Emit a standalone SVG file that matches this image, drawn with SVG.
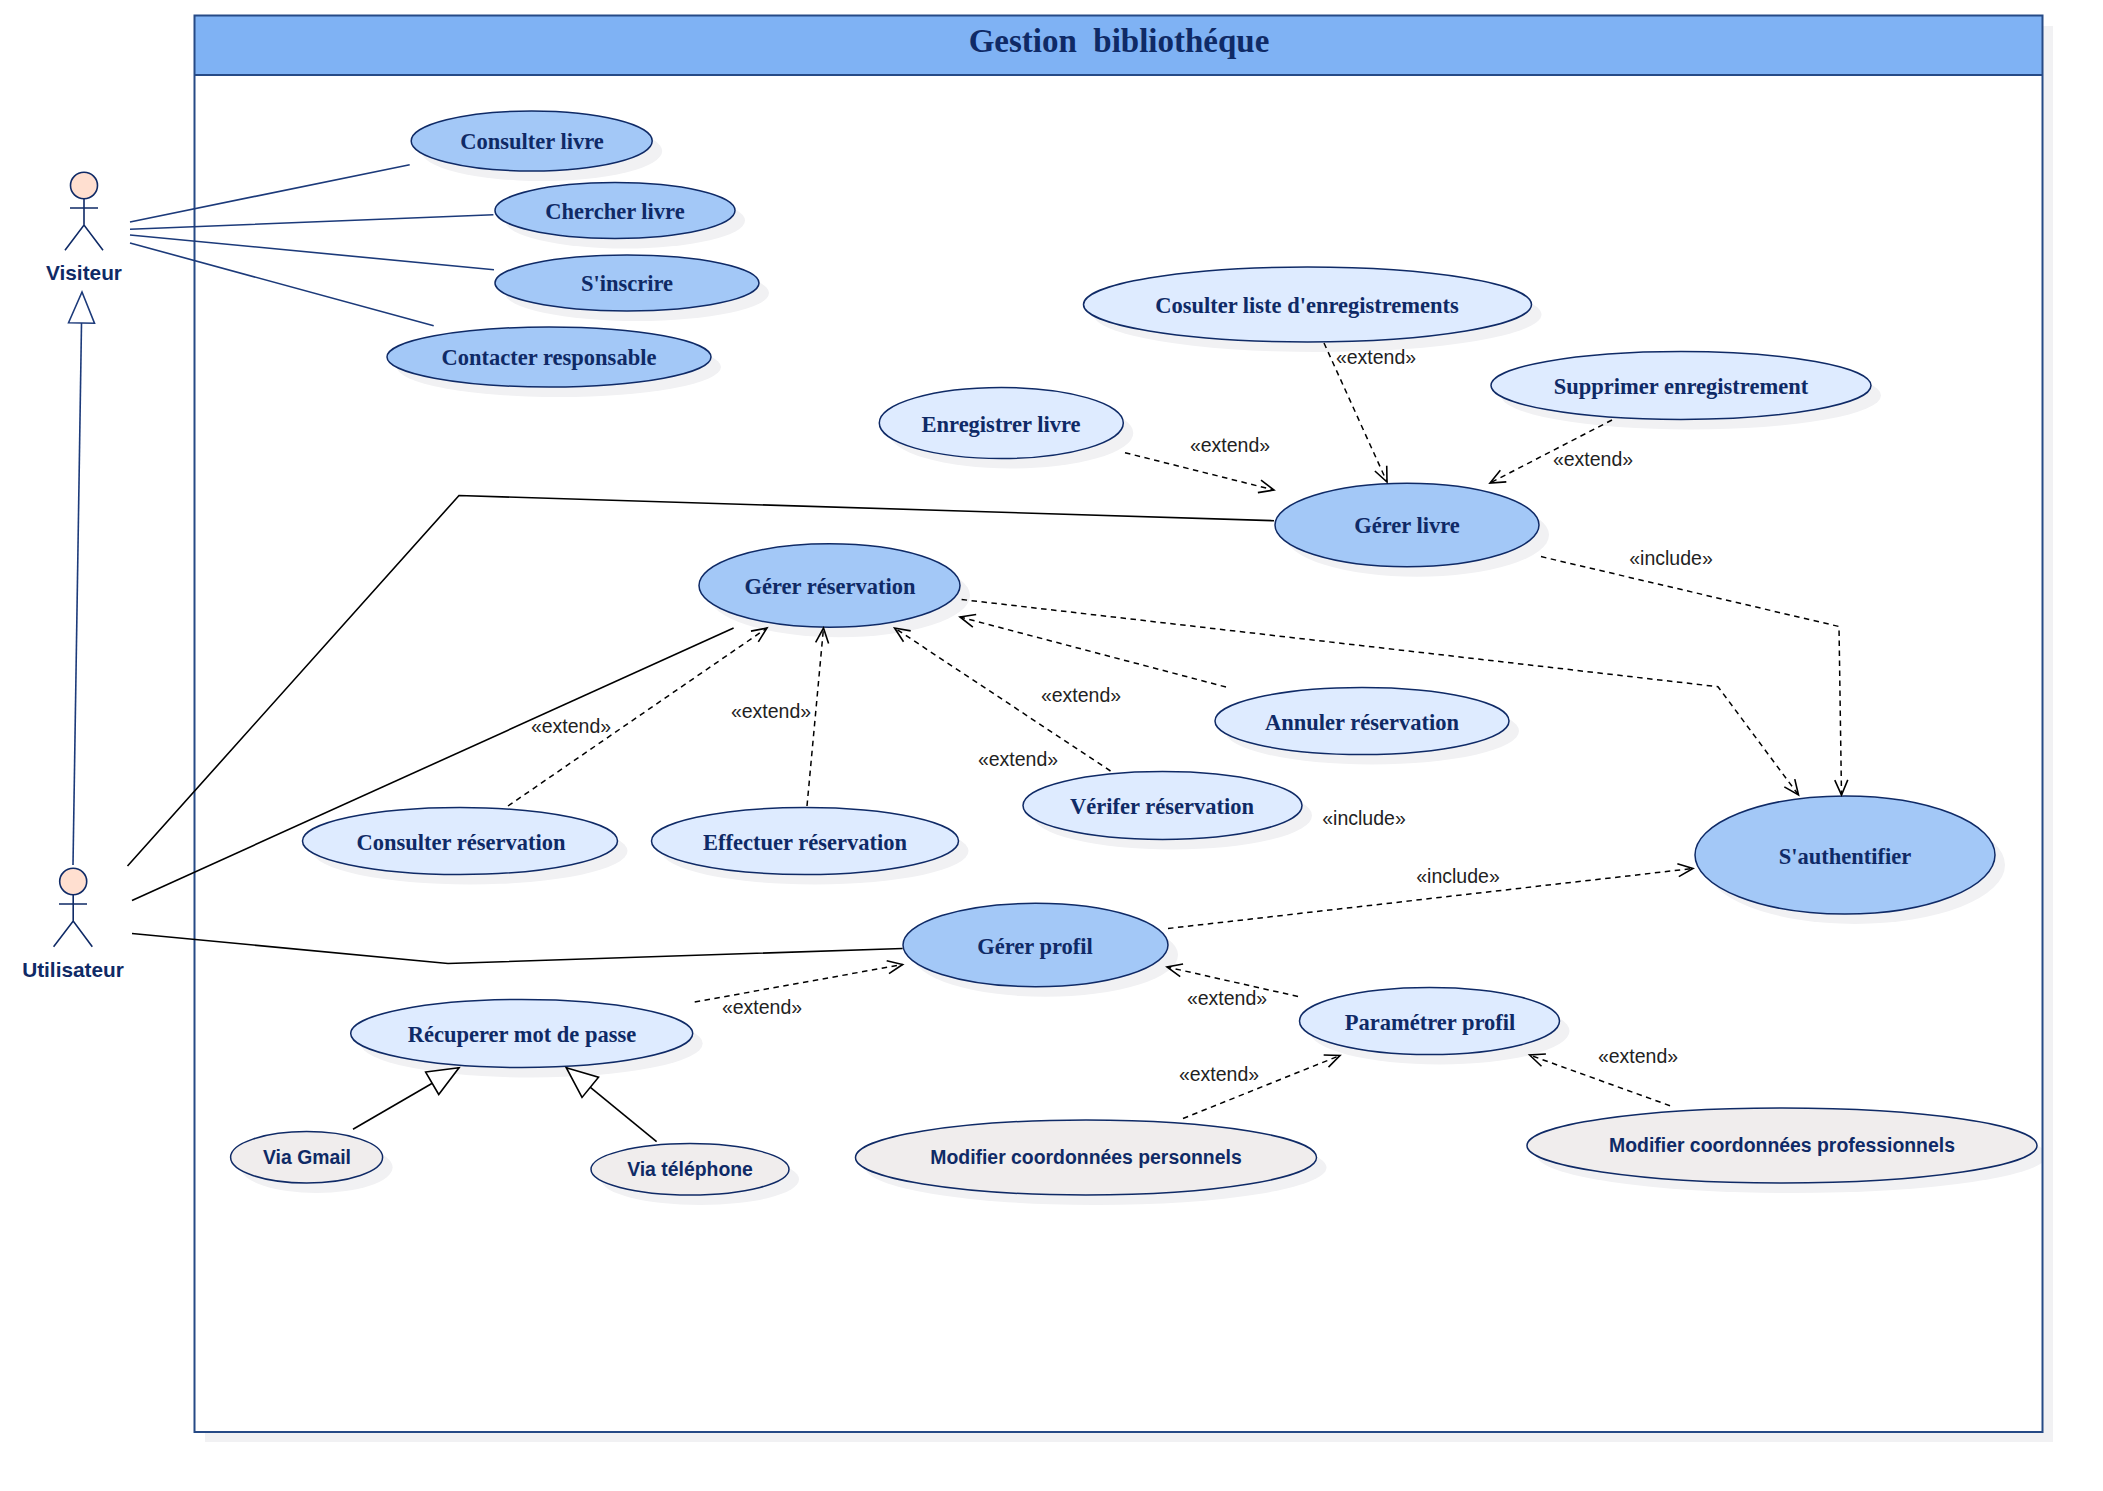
<svg xmlns="http://www.w3.org/2000/svg" width="2103" height="1491" viewBox="0 0 2103 1491">
<style>
text{text-anchor:middle;white-space:pre}
.s{fill:#f1f1f3;stroke:none}
.d{fill:#a3c8f7}.l{fill:#deebff}.g{fill:#f0eded}
.e{stroke:#0f2a66;stroke-width:1.500}
.t{font:bold 22.500px "Liberation Serif",serif;fill:#0f2a66}
.b{font:bold 19.400px "Liberation Sans",Arial,sans-serif;fill:#0f2a66}
.a{font:bold 20.800px "Liberation Sans",Arial,sans-serif;fill:#0f2a66}
.x{font:19.500px "Liberation Sans",Arial,sans-serif;fill:#222}
.n{fill:none;stroke:#1c3a7a;stroke-width:1.600}
.k{fill:none;stroke:#000;stroke-width:1.600}
.o{fill:none;stroke:#000;stroke-width:1.500;stroke-dasharray:5.500 4.500;marker-end:url(#open)}
.actor{fill:none;stroke:#0f2a66;stroke-width:1.600}
</style>
<defs>
<marker id="open" markerUnits="userSpaceOnUse" viewBox="-18 -10 20 20" refX="0" refY="0" markerWidth="20" markerHeight="20" orient="auto" overflow="visible"><path d="M-15 -6.500 L0 0 L-15 6.500" fill="none" stroke="#000" stroke-width="1.600"/></marker>
<marker id="gk" markerUnits="userSpaceOnUse" viewBox="-34 -15 36 30" refX="0" refY="0" markerWidth="36" markerHeight="30" orient="auto" overflow="visible"><path d="M-31 -13 L0 0 L-31 13 Z" fill="#fff" stroke="#000" stroke-width="1.600"/></marker>
<marker id="gn" markerUnits="userSpaceOnUse" viewBox="-34 -15 36 30" refX="0" refY="0" markerWidth="36" markerHeight="30" orient="auto" overflow="visible"><path d="M-31 -13 L0 0 L-31 13 Z" fill="#fff" stroke="#1c3a7a" stroke-width="1.600"/></marker>
</defs>
<rect width="2103" height="1491" fill="#fff"/>
<g id="system">
<path d="M2043 26H2053V1442H205V1432H2043Z" fill="#f1f1f3"/>
<rect x="194.500" y="15.500" width="1848" height="1416.500" fill="#fff"/>
<rect x="194.500" y="15.500" width="1848" height="59.500" fill="#7fb2f4"/>
</g>
<g id="visiteur"><ellipse cx="84" cy="185.500" rx="13.500" ry="13.200" fill="#ffdfd0" stroke="#0f2a66" stroke-width="1.600"/><path class="actor" d="M84 199V225M70 208H98M65 250.300L84 225L103 250.300"/><text class="a" x="84" y="280">Visiteur</text></g>
<g id="utilisateur"><ellipse cx="73.200" cy="881.500" rx="13.500" ry="13.200" fill="#ffdfd0" stroke="#0f2a66" stroke-width="1.600"/><path class="actor" d="M73.200 895V921M59 904H87M53.600 946.700L73.200 921L92.300 946.700"/><text class="a" x="73" y="977">Utilisateur</text></g>
<g id="consulter-livre"><ellipse class="s" cx="541.700" cy="151" rx="120.500" ry="30"/><ellipse class="d e" cx="531.700" cy="141" rx="120.500" ry="30"/><text class="t" x="532" y="149">Consulter livre</text></g>
<g id="chercher-livre"><ellipse class="s" cx="625" cy="220.500" rx="120" ry="28"/><ellipse class="d e" cx="615" cy="210.500" rx="120" ry="28"/><text class="t" x="615" y="219">Chercher livre</text></g>
<g id="sinscrire"><ellipse class="s" cx="637" cy="293" rx="132" ry="28"/><ellipse class="d e" cx="627" cy="283" rx="132" ry="28"/><text class="t" x="627" y="291">S'inscrire</text></g>
<g id="contacter"><ellipse class="s" cx="559" cy="367" rx="162" ry="30"/><ellipse class="d e" cx="549" cy="357" rx="162" ry="30"/><text class="t" x="549" y="365">Contacter responsable</text></g>
<g id="cosulter-liste"><ellipse class="s" cx="1317.500" cy="314.500" rx="224" ry="37.500"/><ellipse class="l e" cx="1307.500" cy="304.500" rx="224" ry="37.500"/><text class="t" x="1307" y="313">Cosulter liste d'enregistrements</text></g>
<g id="supprimer"><ellipse class="s" cx="1691" cy="395.500" rx="190" ry="34"/><ellipse class="l e" cx="1681" cy="385.500" rx="190" ry="34"/><text class="t" x="1681" y="394">Supprimer enregistrement</text></g>
<g id="enregistrer"><ellipse class="s" cx="1011.300" cy="433" rx="122" ry="35.500"/><ellipse class="l e" cx="1001.300" cy="423" rx="122" ry="35.500"/><text class="t" x="1001" y="432">Enregistrer livre</text></g>
<g id="gerer-livre"><ellipse class="s" cx="1417" cy="535" rx="132" ry="41.700"/><ellipse class="d e" cx="1407" cy="525" rx="132" ry="41.700"/><text class="t" x="1407" y="533">Gérer livre</text></g>
<g id="gerer-reservation"><ellipse class="s" cx="839.500" cy="595.500" rx="130.500" ry="41.700"/><ellipse class="d e" cx="829.500" cy="585.500" rx="130.500" ry="41.700"/><text class="t" x="830" y="594">Gérer réservation</text></g>
<g id="annuler"><ellipse class="s" cx="1372" cy="731" rx="147" ry="33.500"/><ellipse class="l e" cx="1362" cy="721" rx="147" ry="33.500"/><text class="t" x="1362" y="730">Annuler réservation</text></g>
<g id="verifer"><ellipse class="s" cx="1172.500" cy="815.500" rx="139.500" ry="34"/><ellipse class="l e" cx="1162.500" cy="805.500" rx="139.500" ry="34"/><text class="t" x="1162" y="814">Vérifer réservation</text></g>
<g id="consulter-reservation"><ellipse class="s" cx="470" cy="851" rx="157.500" ry="33.500"/><ellipse class="l e" cx="460" cy="841" rx="157.500" ry="33.500"/><text class="t" x="461" y="849.500">Consulter réservation</text></g>
<g id="effectuer"><ellipse class="s" cx="815" cy="851" rx="153.500" ry="33.500"/><ellipse class="l e" cx="805" cy="841" rx="153.500" ry="33.500"/><text class="t" x="805" y="849.500">Effectuer réservation</text></g>
<g id="sauthentifier"><ellipse class="s" cx="1855" cy="865" rx="150" ry="59"/><ellipse class="d e" cx="1845" cy="855" rx="150" ry="59"/><text class="t" x="1845" y="864">S'authentifier</text></g>
<g id="gerer-profil"><ellipse class="s" cx="1045.500" cy="955" rx="132.500" ry="41.700"/><ellipse class="d e" cx="1035.500" cy="945" rx="132.500" ry="41.700"/><text class="t" x="1035" y="954">Gérer profil</text></g>
<g id="parametrer"><ellipse class="s" cx="1439.500" cy="1031" rx="130" ry="33.500"/><ellipse class="l e" cx="1429.500" cy="1021" rx="130" ry="33.500"/><text class="t" x="1430" y="1030">Paramétrer profil</text></g>
<g id="modifier-pro"><ellipse class="s" cx="1792" cy="1155.500" rx="255" ry="37.500"/><ellipse class="g e" cx="1782" cy="1145.500" rx="255" ry="37.500"/><text class="b" x="1782" y="1151.500">Modifier coordonnées professionnels</text></g>
<g id="modifier-perso"><ellipse class="s" cx="1096" cy="1167.500" rx="230.500" ry="37.500"/><ellipse class="g e" cx="1086" cy="1157.500" rx="230.500" ry="37.500"/><text class="b" x="1086" y="1164">Modifier coordonnées personnels</text></g>
<g id="recuperer"><ellipse class="s" cx="531.700" cy="1043.500" rx="171" ry="34"/><ellipse class="l e" cx="521.700" cy="1033.500" rx="171" ry="34"/><text class="t" x="522" y="1042">Récuperer mot de passe</text></g>
<g id="via-gmail"><ellipse class="s" cx="316.600" cy="1167.300" rx="76" ry="25.700"/><ellipse class="g e" cx="306.600" cy="1157.300" rx="76" ry="25.700"/><text class="b" x="307" y="1163.500">Via Gmail</text></g>
<g id="via-telephone"><ellipse class="s" cx="700" cy="1179.300" rx="99" ry="25.700"/><ellipse class="g e" cx="690" cy="1169.300" rx="99" ry="25.700"/><text class="b" x="690" y="1175.500">Via téléphone</text></g>
<g id="title"><rect x="194.500" y="15.500" width="1848" height="1416.500" fill="none" stroke="#264a86" stroke-width="2"/><path d="M194.500 75H2042.500" stroke="#264a86" stroke-width="2"/><text x="1119" y="52" style="font:bold 33px 'Liberation Serif',serif;fill:#0f2a66">Gestion  bibliothéque</text></g>
<g id="connectors">
<path class="n" d="M130 222L409.700 164.700M130 229.300L493.400 214.700M130 235L494 269.700M130 243L433.700 325.700"/>
<path class="n" d="M73 865L82 292" style="marker-end:url(#gn)"/>
<path class="k" d="M127.500 866L459 495.500L1274 520.700"/>
<path class="k" d="M132 900.500L733.600 628"/>
<path class="k" d="M132 933.500L448 963.500L902.600 948.500"/>
<path class="k" d="M353 1129.300L459 1067.700" style="marker-end:url(#gk)"/>
<path class="k" d="M656.600 1141.700L566.300 1067.700" style="marker-end:url(#gk)"/>
<path class="o" d="M508 806L767 628"/>
<path class="o" d="M807 806L823.500 628"/>
<path class="o" d="M1110.500 771L894.600 628"/>
<path class="o" d="M1226 687L960 617"/>
<path class="o" d="M961.600 599.500L1718 686.700L1798.500 795"/>
<path class="o" d="M1541 556.600L1839 626.500L1841.500 795"/>
<path class="o" d="M1125 452.700L1274 490"/>
<path class="o" d="M1324 343L1387 482"/>
<path class="o" d="M1612 420L1490 483"/>
<path class="o" d="M1168 928.500L1693 868.500"/>
<path class="o" d="M1298 996.500L1167 967"/>
<path class="o" d="M694.700 1002L902.600 964.500"/>
<path class="o" d="M1183 1118.500L1340 1055.500"/>
<path class="o" d="M1670 1105.700L1529.600 1055"/>
<text class="x" x="1376" y="364">«extend»</text>
<text class="x" x="1230" y="452">«extend»</text>
<text class="x" x="1593" y="466">«extend»</text>
<text class="x" x="1671" y="565">«include»</text>
<text class="x" x="571" y="733">«extend»</text>
<text class="x" x="771" y="718">«extend»</text>
<text class="x" x="1081" y="702">«extend»</text>
<text class="x" x="1018" y="766">«extend»</text>
<text class="x" x="1364" y="825">«include»</text>
<text class="x" x="1458" y="883">«include»</text>
<text class="x" x="1227" y="1005">«extend»</text>
<text class="x" x="762" y="1014">«extend»</text>
<text class="x" x="1219" y="1081">«extend»</text>
<text class="x" x="1638" y="1063">«extend»</text>
</g>
</svg>
